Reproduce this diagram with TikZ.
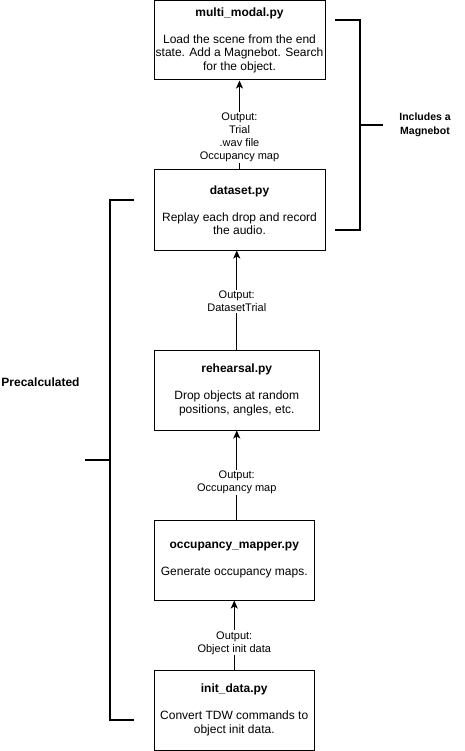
\documentclass[tikz,border=0pt]{standalone}
\usepackage{fontspec}
\setmainfont{Liberation Sans}
\usetikzlibrary{arrows.meta}
\begin{document}
\begin{tikzpicture}[x=1pt,y=-1pt,
  box/.style={draw=black,line width=1pt,rectangle,inner sep=0pt,align=center,
    font=\fontsize{12}{13.5}\selectfont},
  flow/.style={line width=1pt,-{Stealth[length=8pt,width=7pt,inset=2pt]}},
  lab/.style={fill=white,inner sep=1pt,align=center,font=\fontsize{11}{13}\selectfont},
  brace/.style={line width=2pt},
  blab/.style={align=center,font=\bfseries\fontsize{10.5}{14}\selectfont}]
\useasboundingbox (0,0) rectangle (465,751);
\node[box,minimum width=171pt,minimum height=79.5pt] (mm) at (239.5,40.25)
  {\textbf{multi\_modal.py}\\[13.5pt]Load the scene from the end\\state. Add a Magnebot. Search\\for the object.};
\node[box,minimum width=171pt,minimum height=80pt] (ds) at (239.5,210)
  {\textbf{dataset.py}\\[13.5pt]Replay each drop and record\\the audio.};
\node[box,minimum width=165pt,minimum height=80pt] (reh) at (236.75,390)
  {\textbf{rehearsal.py}\\[13.5pt]Drop objects at random\\positions, angles, etc.};
\node[box,minimum width=160pt,minimum height=80pt] (occ) at (234.25,560)
  {\textbf{occupancy\_mapper.py}\\[13.5pt]Generate occupancy maps.};
\node[box,minimum width=160pt,minimum height=80pt] (init) at (234.25,710)
  {\textbf{init\_data.py}\\[13.5pt]Convert TDW commands to\\object init data.};
\draw[flow] (ds.north) -- node[lab,pos=0.361] (l1) {Output:\\Trial\\.wav file\\Occupancy map} (mm.south);
\draw[flow] (reh.north) -- node[lab,pos=0.485] (l2) {Output:\\DatasetTrial} (reh.north |- ds.south);
\draw[flow] (reh.south |- occ.north) -- node[lab,pos=0.417] (l3) {Output:\\Occupancy map} (reh.south);
\draw[flow] (init.north) -- node[lab,pos=0.386] (l4) {Output:\\Object init data} (occ.south);
% right bracket
\coordinate (rt) at (335,20);
\coordinate (rb) at (335,230);
\draw[brace] (rt) -- (360,20) -- (360,230) -- (rb);
\draw[brace] (360,125) -- (383,125);
\node[blab] (inc) at (425,124.5) {Includes a\\Magnebot};
% left bracket
\coordinate (lt) at (134,200);
\coordinate (lb) at (134,720);
\draw[brace] (lt) -- (110,200) -- (110,720) -- (lb);
\draw[brace] (85,460) -- (110,460);
\node[blab,font=\bfseries\fontsize{12}{14}\selectfont] (pre) at (40.5,382) {Precalculated};
\end{tikzpicture}
\end{document}
